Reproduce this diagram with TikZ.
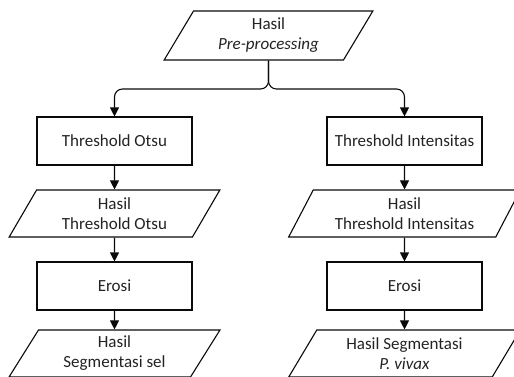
\documentclass[tikz,border=0pt]{standalone}
\usepackage{fontspec}
\setmainfont{Carlito}
\usetikzlibrary{shapes.geometric, arrows.meta, positioning}
\definecolor{linecolor}{RGB}{10, 10, 10}
\definecolor{textcolor}{RGB}{35, 35, 35}

\begin{document}
\begin{tikzpicture}[
    x=1pt, y=-1pt,
    every node/.style={
        font=\fontsize{17}{20}\selectfont,
        text=textcolor
    },
    process/.style={
        draw=linecolor,
        line width=1.1pt,
        rectangle,
        minimum width=155pt,
        minimum height=48pt,
        align=center
    },
    dataio/.style={
        draw=linecolor,
        line width=1.1pt,
        trapezium,
        trapezium left angle=63,
        trapezium right angle=117,
        trapezium stretches=true,
        minimum height=47pt,
        align=center
    },
    flow/.style={
        -{Triangle[length=9pt, width=9pt]},
        line width=1.1pt,
        color=linecolor
    }
]

\useasboundingbox (0, 0) rectangle (514, 377);

% Input
\node[dataio, minimum width=209pt, minimum height=49pt] (pre) at (268.5, 35.5) {Hasil\\\textit{Pre-processing}};
\coordinate (split) at (268.5, 89);

% ==================== LEFT BRANCH ====================
\node[process] (otsu) at (114.5, 141) {Threshold Otsu};
\node[dataio, minimum width=211pt] (hotsu) at (114.5, 213.5) {Hasil\\Threshold Otsu};
\node[process] (erosiL) at (114.5, 286) {Erosi};
\node[dataio, minimum width=211pt] (segsel) at (114.5, 353.5) {Hasil\\Segmentasi sel};

% ==================== RIGHT BRANCH ====================
\node[process] (intens) at (404.5, 141) {Threshold Intensitas};
\node[dataio, minimum width=232pt] (hintens) at (404.5, 213.5) {Hasil\\Threshold Intensitas};
\node[process] (erosiR) at (404.5, 286) {Erosi};
\node[dataio, minimum width=232pt] (segvivax) at (404.5, 353.5) {Hasil Segmentasi\\\textit{P. vivax}};

% ==================== CONNECTORS ====================
\draw[flow, rounded corners=8pt] (pre.south) -- (split) -| (otsu.north);
\draw[flow, rounded corners=8pt] (pre.south) -- (split) -| (intens.north);

\draw[flow] (otsu) -- (hotsu);
\draw[flow] (hotsu) -- (erosiL);
\draw[flow] (erosiL) -- (segsel);

\draw[flow] (intens) -- (hintens);
\draw[flow] (hintens) -- (erosiR);
\draw[flow] (erosiR) -- (segvivax);

\end{tikzpicture}
\end{document}
